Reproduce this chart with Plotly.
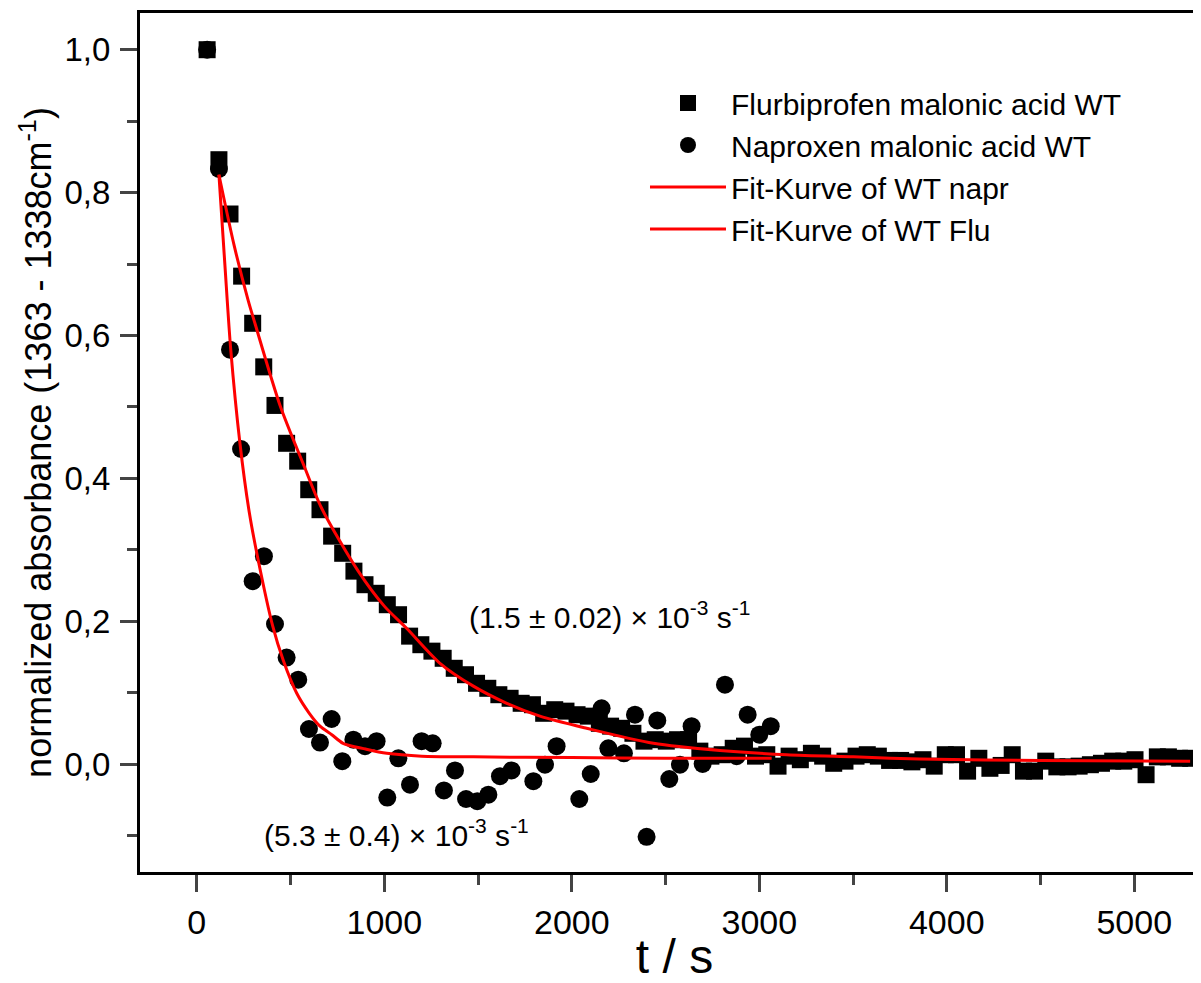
import plotly.graph_objects as go

# ---- data ----
flu_t = [55, 118, 177, 239, 298, 357, 417, 479, 538, 597, 657, 719, 778, 838, 897, 957,
         1016, 1076, 1135, 1195, 1254, 1314, 1373, 1433, 1492, 1552, 1611, 1671, 1730, 1790,
         1850, 1909, 1969, 2028, 2088, 2147, 2207, 2266, 2326, 2385, 2445, 2504, 2564, 2623,
         2683, 2742, 2802, 2861, 2921, 2980, 3040, 3100, 3159, 3219, 3278, 3338, 3397, 3457,
         3516, 3576, 3635, 3695, 3754, 3814, 3873, 3933, 3992, 4052, 4111, 4171, 4230, 4290,
         4349, 4409, 4468, 4528, 4587, 4647, 4706, 4766, 4825, 4885, 4944, 5004, 5063, 5123,
         5182, 5242, 5301]
flu_y = [1.000, 0.846, 0.770, 0.683, 0.617, 0.556, 0.502, 0.449, 0.424, 0.384, 0.356, 0.319,
         0.295, 0.270, 0.251, 0.239, 0.223, 0.209, 0.179, 0.167, 0.158, 0.148, 0.134, 0.125,
         0.113, 0.106, 0.097, 0.092, 0.085, 0.083, 0.071, 0.076, 0.074, 0.069, 0.067, 0.057,
         0.053, 0.050, 0.043, 0.032, 0.034, 0.032, 0.034, 0.034, 0.018, 0.011, 0.013, 0.022,
         0.025, 0.011, 0.013, -0.003, 0.011, 0.006, 0.015, 0.011, 0.001, 0.004, 0.011, 0.013,
         0.011, 0.005, 0.005, 0.003, 0.006, -0.003, 0.013, 0.013, -0.010, 0.008, -0.006, -0.002,
         0.013, -0.010, -0.010, 0.004, -0.004, -0.004, -0.003, -0.001, 0.001, 0.004, 0.004,
         0.006, -0.015, 0.010, 0.010, 0.008, 0.008]

nap_t = [55, 118, 177, 236, 298, 358, 417, 479, 541, 598, 657, 719, 776, 835, 897, 959,
         1016, 1075, 1137, 1199, 1258, 1318, 1377, 1436, 1496, 1555, 1617, 1679, 1795, 1857,
         1919, 2040, 2101, 2159, 2195, 2278, 2337, 2399, 2456, 2520, 2577, 2639, 2698, 2817,
         2879, 2938, 3000, 3061]
nap_y = [1.000, 0.833, 0.580, 0.441, 0.256, 0.291, 0.196, 0.149, 0.118, 0.049, 0.030, 0.063,
         0.004, 0.034, 0.025, 0.032, -0.047, 0.008, -0.029, 0.032, 0.029, -0.037, -0.009,
         -0.049, -0.052, -0.043, -0.017, -0.009, -0.024, -0.001, 0.025, -0.049, -0.014, 0.078,
         0.022, 0.015, 0.069, -0.102, 0.061, -0.021, -0.001, 0.053, 0.000, 0.111, 0.011, 0.069,
         0.041, 0.053]

fit_nap_t = [118, 150, 181, 230, 280, 327, 405, 460, 533, 600, 657, 720, 780, 900, 1013,
             1200, 1475, 2000, 2500, 3066]
fit_nap_y = [0.825, 0.698, 0.580, 0.449, 0.352, 0.286, 0.193, 0.146, 0.099, 0.071, 0.053,
             0.041, 0.029, 0.021, 0.015, 0.011, 0.010, 0.009, 0.008, 0.008]

fit_flu_t = [118, 200, 275, 310, 444, 568, 666, 861, 1000, 1119, 1297, 1475, 1653, 1830,
             2079, 2435, 2790, 3146, 3501, 3857, 4500, 5298]
fit_flu_y = [0.825, 0.725, 0.648, 0.617, 0.502, 0.420, 0.358, 0.270, 0.221, 0.190, 0.141,
             0.109, 0.085, 0.067, 0.050, 0.029, 0.019, 0.013, 0.010, 0.007, 0.005, 0.004]

x_ticks = [0, 1000, 2000, 3000, 4000, 5000]
y_ticks = [0.0, 0.2, 0.4, 0.6, 0.8, 1.0]

names = ["Flurbiprofen malonic acid WT", "Naproxen malonic acid WT",
         "Fit-Kurve of WT napr", "Fit-Kurve of WT Flu"]

FONT = "Liberation Sans, Arial, sans-serif"

fig = go.Figure()
fig.add_trace(go.Scatter(x=flu_t, y=flu_y, mode="markers", name=names[0],
                         marker=dict(symbol="square", size=17, color="black", line=dict(width=0))))
fig.add_trace(go.Scatter(x=nap_t, y=nap_y, mode="markers", name=names[1],
                         marker=dict(symbol="circle", size=18, color="black", line=dict(width=0))))
fig.add_trace(go.Scatter(x=fit_nap_t, y=fit_nap_y, mode="lines", name=names[2],
                         line=dict(color="#ff0000", width=3, shape="spline", smoothing=0.8)))
fig.add_trace(go.Scatter(x=fit_flu_t, y=fit_flu_y, mode="lines", name=names[3],
                         line=dict(color="#ff0000", width=3, shape="spline", smoothing=0.8)))

fig.add_annotation(x=1441, y=0.209, xref="x", yref="y", xanchor="left", yanchor="middle",
                   text="(1.5 ± 0.02) × 10<sup>-3</sup> s<sup>-1</sup>", showarrow=False,
                   font=dict(family=FONT, size=30, color="black"))
fig.add_annotation(x=348, y=-0.096, xref="x", yref="y", xanchor="left", yanchor="middle",
                   text="(5.3 ± 0.4) × 10<sup>-3</sup> s<sup>-1</sup>", showarrow=False,
                   font=dict(family=FONT, size=30, color="black"))

# the page body has an 8 px margin, so margins are shifted by 8 px
fig.update_layout(
    width=1201, height=975,
    margin=dict(l=132, r=0, t=5, b=111, pad=0),
    plot_bgcolor="white", paper_bgcolor="white",
    font=dict(family=FONT, color="black"),
    separators=",.",
    legend=dict(x=0.4724, y=0.9255, xanchor="left", yanchor="top",
                font=dict(family=FONT, size=30, color="black"),
                bgcolor="rgba(0,0,0,0)", itemwidth=76, tracegroupgap=0),
)
fig.update_xaxes(range=[-303, 5398.6], tickvals=x_ticks, ticks="outside", ticklen=17, tickwidth=3,
                 showline=True, linewidth=3, linecolor="black", mirror=True,
                 showgrid=False, zeroline=False, automargin=False,
                 ticklabelstandoff=1,
                 tickfont=dict(family=FONT, size=34, color="black"),
                 minor=dict(ticks="outside", ticklen=10, tickwidth=3, dtick=500, tick0=0,
                            showgrid=False),
                 title=dict(text="t / s", font=dict(family=FONT, size=48, color="black"),
                            standoff=2))
fig.update_yaxes(range=[-0.1512, 1.0514], tickvals=y_ticks, tickformat=".1f", ticks="outside",
                 ticklen=17, tickwidth=3, ticklabelstandoff=3,
                 showline=True, linewidth=3, linecolor="black", mirror=False,
                 showgrid=False, zeroline=False, automargin=False,
                 tickfont=dict(family=FONT, size=33, color="black"),
                 minor=dict(ticks="outside", ticklen=10, tickwidth=3, dtick=0.1, tick0=0,
                            showgrid=False),
                 title=dict(text="normalized absorbance (1363 - 1338cm<sup>-1</sup>)",
                            font=dict(family=FONT, size=36, color="black"), standoff=2))

fig.write_html("out.html")
